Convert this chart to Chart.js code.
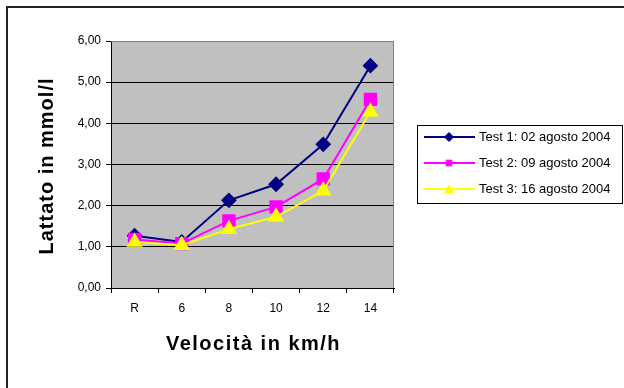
<!DOCTYPE html>
<html>
<head>
<meta charset="utf-8">
<script src="https://cdn.jsdelivr.net/npm/chart.js@4"></script>
<style>
  html, body { margin: 0; padding: 0; background: #fff; }
  #wrap { position: relative; width: 624px; height: 388px; }
</style>
</head>
<body>
<div id="wrap"><canvas id="grafico" width="624" height="388"></canvas></div>
<script>
// dati
const velocita = ['R', '6', '8', '10', '12', '14'];
const test1 = [1.27, 1.12, 2.13, 2.52, 3.49, 5.40];
const test2 = [1.18, 1.08, 1.63, 1.97, 2.65, 4.58];
const test3 = [1.12, 1.04, 1.43, 1.73, 2.36, 4.28];
const nomiSerie = ['Test 1: 02 agosto 2004', 'Test 2: 09 agosto 2004', 'Test 3: 16 agosto 2004'];
const colori = ['#000080', '#FF00FF', '#FFFF00'];
const titoloX = 'Velocità in km/h';
const titoloY = 'Lattato in mmol/l';

const FONT = 'Arial, "Liberation Sans", sans-serif';

// sfondo grigio, cornice esterna, titoli e legenda in stile Excel
const excelPlugin = {
    id: 'excelStyle',
    beforeDraw(chart) {
        const ctx = chart.ctx;
        const a = chart.chartArea;
        ctx.save();
        ctx.fillStyle = '#fff';
        ctx.fillRect(0, 0, chart.width, chart.height);
        ctx.strokeStyle = '#222';
        ctx.lineWidth = 2;
        ctx.beginPath();
        ctx.moveTo(7, chart.height);
        ctx.lineTo(7, 7);
        ctx.lineTo(chart.width, 7);
        ctx.stroke();
        ctx.fillStyle = '#C0C0C0';
        ctx.fillRect(a.left, a.top, a.right - a.left, a.bottom - a.top);
        ctx.restore();
    },
    beforeDatasetsDraw(chart) {
        const ctx = chart.ctx;
        const a = chart.chartArea;
        ctx.save();
        ctx.strokeStyle = '#808080';
        ctx.lineWidth = 1;
        ctx.beginPath();
        ctx.moveTo(a.left, a.top + 0.5);
        ctx.lineTo(a.right - 0.5, a.top + 0.5);
        ctx.lineTo(a.right - 0.5, a.bottom);
        ctx.stroke();
        ctx.restore();
    },
    afterDraw(chart) {
        const ctx = chart.ctx;
        const a = chart.chartArea;
        ctx.save();
        // titoli assi (spaziatura larga come in Excel)
        ctx.fillStyle = '#000';
        ctx.font = 'bold 20px ' + FONT;
        ctx.letterSpacing = '1.5px';
        ctx.textAlign = 'center';
        ctx.textBaseline = 'middle';
        ctx.fillText(titoloX, (a.left + a.right) / 2 + 1, 344);
        ctx.save();
        ctx.translate(47, 166);
        ctx.rotate(-Math.PI / 2);
        ctx.letterSpacing = '1px';
        ctx.fillText(titoloY, 0, 0);
        ctx.restore();
        ctx.letterSpacing = '0px';

        // legenda
        const box = { x: 417, y: 125, w: 205, h: 78 };
        ctx.strokeStyle = '#000';
        ctx.lineWidth = 1;
        ctx.strokeRect(box.x + 0.5, box.y + 0.5, box.w, box.h);
        const righe = [137, 163, 189];
        const raggi = [4.5, 4, 5];
        ctx.textAlign = 'left';
        chart.data.datasets.forEach(function (ds, i) {
            const y = righe[i];
            ctx.strokeStyle = ds.borderColor;
            ctx.lineWidth = 2;
            ctx.beginPath();
            ctx.moveTo(424, y);
            ctx.lineTo(475, y);
            ctx.stroke();
            ctx.fillStyle = ds.pointBackgroundColor;
            ctx.strokeStyle = ds.pointBorderColor;
            ctx.lineWidth = 1;
            Chart.helpers.drawPoint(ctx, {
                pointStyle: ds.pointStyle, rotation: 0, borderWidth: 1, radius: raggi[i]
            }, 449, y + (ds.pointStyle === 'triangle' ? 1 : 0));
            ctx.fillStyle = '#000';
            ctx.font = '13px ' + FONT;
            ctx.textBaseline = 'middle';
            ctx.fillText(ds.label, 479, y);
        });
        ctx.restore();
    }
};

const ctx = document.getElementById('grafico').getContext('2d');
new Chart(ctx, {
    type: 'line',
    data: {
        labels: velocita,
        datasets: [
            {
                label: nomiSerie[0], data: test1, order: 3,
                borderColor: colori[0], borderWidth: 2,
                pointStyle: 'rectRot', pointRadius: 6.5,
                pointBackgroundColor: colori[0], pointBorderColor: colori[0]
            },
            {
                label: nomiSerie[1], data: test2, order: 2,
                borderColor: colori[1], borderWidth: 2,
                pointStyle: 'rect', pointRadius: 8,
                pointBackgroundColor: colori[1], pointBorderColor: colori[1]
            },
            {
                label: nomiSerie[2], data: test3, order: 1,
                borderColor: colori[2], borderWidth: 2,
                pointStyle: 'triangle', pointRadius: 7.5,
                pointBackgroundColor: colori[2], pointBorderColor: colori[2]
            }
        ]
    },
    options: {
        responsive: false,
        animation: false,
        layout: { padding: { top: 41, right: 230, left: 0, bottom: 0 } },
        plugins: {
            legend: { display: false },
            tooltip: { enabled: false }
        },
        scales: {
            x: {
                offset: true,
                grid: { offset: true, drawOnChartArea: false, tickLength: 5, tickColor: '#000' },
                border: { color: '#000', width: 1 },
                ticks: {
                    color: '#000', padding: 8,
                    font: { family: FONT, size: 12 }
                },
                afterFit(scale) { scale.height = 100; }
            },
            y: {
                min: 0, max: 6,
                grid: {
                    color: c => (c.tick && c.tick.value === 6 ? '#808080' : '#000'),
                    tickLength: 5, tickColor: '#000', lineWidth: 1
                },
                border: { color: '#000', width: 1 },
                ticks: {
                    stepSize: 1, color: '#000', padding: 5,
                    font: { family: FONT, size: 12 },
                    callback: v => v.toFixed(2).replace('.', ',')
                },
                afterFit(scale) { scale.width = 111; }
            }
        }
    },
    plugins: [excelPlugin]
});
</script>
</body>
</html>
